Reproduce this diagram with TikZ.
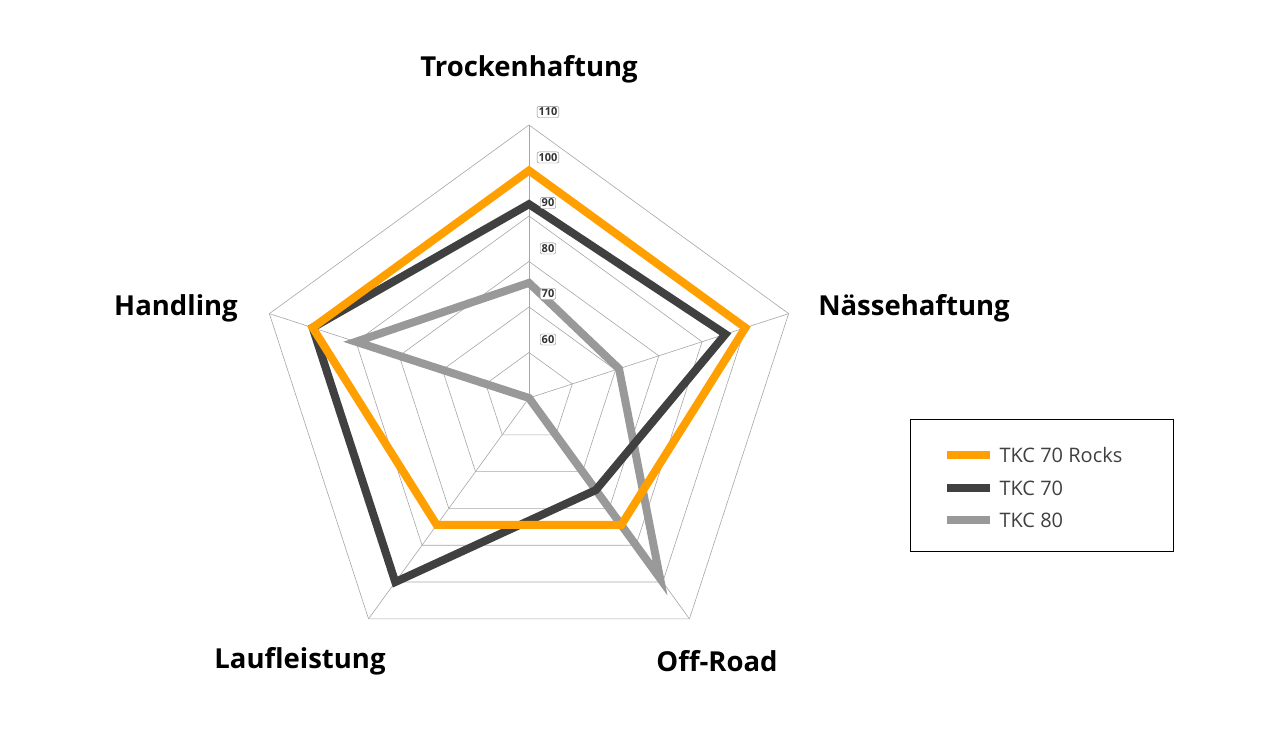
\documentclass[tikz,border=0pt]{standalone}
\usepackage{fontspec}
\setmainfont{Open Sans}
\usetikzlibrary{calc}
\begin{document}
\begin{tikzpicture}[x=1pt,y=1pt,
  grid/.style={draw=gray!70,line width=0.6pt},
  series/.style={line width=8pt,line join=miter},
  axlabel/.style={font=\bfseries\fontsize{27.5}{31}\selectfont},
  tick/.style={draw=gray,rounded corners=2pt,fill=white,inner sep=1.5pt,font=\bfseries\fontsize{11}{12}\selectfont,text=black!80},
  leg/.style={font=\fontsize{20}{24}\selectfont,text=black!75,anchor=west}]
\definecolor{cor}{HTML}{FFA000}
\definecolor{cdk}{HTML}{404040}
\definecolor{cgr}{HTML}{999999}
\useasboundingbox (0,0) rectangle (1280,749);
\coordinate (C) at (529,351);
% rings
\foreach \v in {60,70,...,110}{
  \pgfmathsetmacro{\rr}{(\v-50)*4.55}
  \draw[grid] ($(C)+(90:\rr)$) -- ($(C)+(18:\rr)$) -- ($(C)+(-54:\rr)$) -- ($(C)+(-126:\rr)$) -- ($(C)+(162:\rr)$) -- cycle;
}
\foreach \a in {90,18,-54,-126,162}{ \draw[grid] (C) -- ($(C)+(\a:273)$); }
% data
\newcommand{\rp}[2]{($(C)+(#1:{(#2-50)*4.55})$)}
\draw[series,cgr] \rp{90}{75.3} -- \rp{18}{70.8} -- \rp{-54}{99} -- \rp{-126}{50} -- \rp{162}{90} -- cycle;
\draw[series,cdk] \rp{90}{92.6} -- \rp{18}{95.4} -- \rp{-54}{75} -- \rp{-126}{100} -- \rp{162}{100} -- cycle;
\draw[series,cor] \rp{90}{100} -- \rp{18}{100} -- \rp{-54}{84.5} -- \rp{-126}{84.5} -- \rp{162}{100} -- cycle;
% ticks
\foreach \v in {60,70,...,110}{
  \pgfmathsetmacro{\yy}{351+(\v-50)*4.55+13}
  \node[tick] (t\v) at (548,\yy) {\v};
}
% axis labels
\node[axlabel] (l1) at (529,680) {Trockenhaftung};
\node[axlabel] (l2) at (914,441) {Nässehaftung};
\node[axlabel] (l3) at (176,441) {Handling};
\node[axlabel] (l4) at (300,88) {Laufleistung};
\node[axlabel] (l5) at (717,88) {Off-Road};
% legend
\node[draw=black,line width=0.8pt,minimum width=263,minimum height=132,anchor=north west] (box) at (910,330) {};
\coordinate (a1) at (947,294); \coordinate (b1) at (990,294);
\coordinate (a2) at (947,261); \coordinate (b2) at (990,261);
\coordinate (a3) at (947,229); \coordinate (b3) at (990,229);
\draw[series,cor] (a1) -- (b1); \node[leg] (e1) at (996,294) {TKC 70 Rocks};
\draw[series,cdk] (a2) -- (b2); \node[leg] (e2) at (996,261) {TKC 70};
\draw[series,cgr] (a3) -- (b3); \node[leg] (e3) at (996,229) {TKC 80};
\end{tikzpicture}
\end{document}
